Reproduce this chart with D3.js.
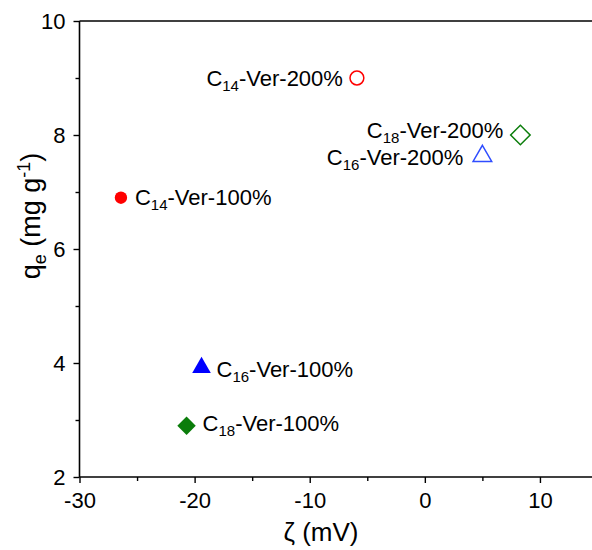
<!DOCTYPE html>
<html>
<head>
<meta charset="utf-8">
<script src="https://cdn.jsdelivr.net/npm/d3@7"></script>
<style>
  body { margin: 0; background: #fff; }
  svg { font-family: "Liberation Sans", Arial, sans-serif; }
</style>
</head>
<body>
<svg id="chart" width="592" height="550"></svg>
<script>
// data
var names   = ["14", "16", "18", "14", "16", "18"];
var loading = ["200%", "200%", "200%", "100%", "100%", "100%"];
var zeta    = [-5.9, 5.0, 8.3, -26.4, -19.4, -20.7];
var qe      = [9.0, 7.63, 8.0, 6.9, 3.92, 2.9];
var xTicks  = [-30, -20, -10, 0, 10];
var yTicks  = [2, 4, 6, 8, 10];

var svg = d3.select("#chart"),
  margin = { left: 79.5, top: 21, bottom: 73 },
  width = 597.5 - margin.left,
  height = 550 - margin.top - margin.bottom,
  g = svg.append("g").attr("transform", "translate(" + margin.left + "," + margin.top + ")");

var x = d3.scaleLinear().domain([-30, 15]).range([0, width]);
var y = d3.scaleLinear().domain([2, 10]).range([height, 0]);

var red = "#ff0000", blue = "#0000ff", blueOpen = "#2f4dff", green = "#0b7d0b";

// marker styles per point
function markStyle(i) {
  var c = names[i] == "14" ? red : names[i] == "16" ? (i < 3 ? blueOpen : blue) : green;
  return { color: c, filled: i >= 3 };
}

// label offsets from the marker (dx, dy, anchor)
var labelPos = [
  [-14, 8, "end"], [-19, 9, "end"], [-17, 3, "end"],
  [14, 7, "start"], [15, 9, "start"], [16, 5, "start"]
];

// axes
g.append("g")
  .attr("transform", "translate(0," + height + ")")
  .call(d3.axisBottom(x).tickValues(xTicks).tickSize(6).tickPadding(9).tickFormat(function(d) { return String(d); }));
g.append("g")
  .call(d3.axisLeft(y).tickValues(yTicks).tickSize(6).tickPadding(8).tickFormat(function(d) { return String(d); }));

// minor ticks
g.append("g")
  .attr("transform", "translate(0," + height + ")")
  .call(d3.axisBottom(x).tickValues([-25, -15, -5, 5, 15]).tickSize(4).tickFormat(""));
g.append("g")
  .call(d3.axisLeft(y).tickValues([3, 5, 7, 9]).tickSize(4).tickFormat(""));

g.selectAll(".domain").remove();
g.selectAll(".tick line").attr("stroke-width", 1.4);
g.selectAll(".tick text").attr("font-size", 22).attr("font-family", "Liberation Sans, Arial, sans-serif").attr("fill", "#000");

// frame: left, bottom and top lines
g.append("line").attr("x1", 0).attr("x2", 0).attr("y1", 0).attr("y2", height)
  .attr("stroke", "#000").attr("stroke-width", 1.6);
g.append("line").attr("x1", 0).attr("x2", width).attr("y1", height).attr("y2", height)
  .attr("stroke", "#000").attr("stroke-width", 1.6);
g.append("line").attr("x1", 0).attr("x2", width).attr("y1", 0).attr("y2", 0)
  .attr("stroke", "#000").attr("stroke-width", 1.6);

// points
var idx = d3.range(zeta.length);
g.append("g").selectAll("path").data(idx).enter().append("path")
  .attr("transform", function(i) {
    var rot = names[i] == "18" ? " rotate(45)" : "";
    return "translate(" + x(zeta[i]) + "," + y(qe[i]) + ")" + rot;
  })
  .attr("d", function(i) {
    var s = markStyle(i);
    if (names[i] == "14") return d3.symbol().type(d3.symbolCircle).size(s.filled ? 120 : 150)();
    if (names[i] == "16") return d3.symbol().type(d3.symbolTriangle).size(150)();
    return d3.symbol().type(d3.symbolSquare).size(s.filled ? 170 : 190)();
  })
  .attr("fill", function(i) { var s = markStyle(i); return s.filled ? s.color : "none"; })
  .attr("stroke", function(i) { return markStyle(i).color; })
  .attr("stroke-width", function(i) { return markStyle(i).filled ? 0 : 1.5; });

// labels with subscripts
var labels = g.append("g").selectAll("text").data(idx).enter().append("text")
  .attr("x", function(i) { return x(zeta[i]) + labelPos[i][0]; })
  .attr("y", function(i) { return y(qe[i]) + labelPos[i][1]; })
  .attr("text-anchor", function(i) { return labelPos[i][2]; })
  .attr("font-size", 22)
  .attr("fill", "#000");
labels.append("tspan").text("C");
labels.append("tspan").attr("font-size", 15).attr("dy", 5).text(function(i) { return names[i]; });
labels.append("tspan").attr("dy", -5).text(function(i) { return "-Ver-" + loading[i]; });

// axis titles
svg.append("text")
  .attr("x", 321).attr("y", 541)
  .attr("text-anchor", "middle")
  .attr("font-size", 26)
  .attr("fill", "#000")
  .text("\u03b6 (mV)");

var yt = svg.append("text")
  .attr("transform", "translate(40,216) rotate(-90)")
  .attr("text-anchor", "middle")
  .attr("font-size", 27)
  .attr("fill", "#000");
yt.append("tspan").text("q");
yt.append("tspan").attr("font-size", 18).attr("dy", 6).text("e");
yt.append("tspan").attr("dy", -6).text(" (mg g");
yt.append("tspan").attr("font-size", 18).attr("dy", -10).text("-1");
yt.append("tspan").attr("dy", 10).text(")");
</script>
</body>
</html>
